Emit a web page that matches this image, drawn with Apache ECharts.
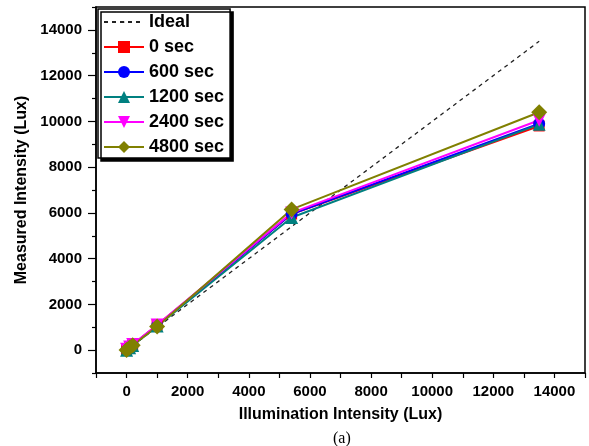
<!DOCTYPE html>
<html>
<head>
<meta charset="utf-8">
<script src="https://cdn.jsdelivr.net/npm/echarts@6/dist/echarts.min.js"></script>
<style>html,body{margin:0;padding:0;background:#fff}#c{width:589px;height:446px}</style>
</head>
<body>
<div id="c"></div>
<script>
const illum = [0, 100, 200, 1000, 5400, 13500];
const ideal = [0, 100, 200, 1000, 5400, 13500];
const sec0 = [20, 120, 230, 1100, 5950, 9800];
const sec600 = [10, 110, 220, 1080, 5950, 9900];
const sec1200 = [0, 100, 200, 1050, 5800, 9870];
const sec2400 = [40, 140, 250, 1100, 6000, 10050];
const sec4800 = [10, 110, 210, 1030, 6150, 10400];
const majorTicks = [0, 2000, 4000, 6000, 8000, 10000, 12000, 14000];
const minorTicks = [-1000, 1000, 3000, 5000, 7000, 9000, 11000, 13000, 15000];
const names = ['Ideal', '0 sec', '600 sec', '1200 sec', '2400 sec', '4800 sec'];

const pair = ys => illum.map((x, i) => [x, ys[i]]);
const F = 'Liberation Sans, Arial, sans-serif';
const chart = echarts.init(document.getElementById('c'));

function mk(name, ys, color, symbol, size, extra) {
  return Object.assign({
    name: name, type: 'line', data: pair(ys), symbol: symbol, symbolSize: size,
    lineStyle: { color: color, width: 2 }, itemStyle: { color: color },
    z: 3, animation: false
  }, extra || {});
}

chart.setOption({
  animation: false,
  title: {
    text: '(a)', left: 328, top: 426,
    textStyle: { fontFamily: 'Liberation Serif, DejaVu Serif, serif', fontWeight: 'normal', fontSize: 16, color: '#000' }
  },
  grid: { left: 96, right: 4, top: 7, bottom: 73, show: true, borderColor: '#000', borderWidth: 1.5 },
  legend: {
    orient: 'vertical', left: 98, top: 9, data: names,
    padding: [4, 6, 2, 5], itemGap: 7, itemWidth: 40, itemHeight: 15,
    backgroundColor: '#fff', borderColor: '#000', borderWidth: 1.5,
    shadowColor: '#000', shadowOffsetX: 3, shadowOffsetY: 3, shadowBlur: 0.1,
    textStyle: { fontFamily: F, fontWeight: 'bold', fontSize: 18, color: '#000', lineHeight: 18 }
  },
  xAxis: {
    type: 'value', min: -1000, max: 15000, interval: 1000,
    name: 'Illumination Intensity (Lux)', nameLocation: 'middle', nameGap: 34,
    nameTextStyle: { fontFamily: F, fontWeight: 'bold', fontSize: 16, color: '#000' },
    axisLine: { show: true, onZero: false, lineStyle: { color: '#000', width: 1.5 } },
    axisTick: { show: true, length: 5, lineStyle: { color: '#000', width: 1.2 } },
    axisLabel: {
      margin: 11, fontFamily: F, fontWeight: 'bold', fontSize: 15, color: '#000',
      formatter: v => (v >= 0 && v <= 14000 && v % 2000 === 0) ? String(v) : ''
    },
    splitLine: { show: false }
  },
  yAxis: [{
    type: 'value', min: -1000, max: 15000, interval: 1000,
    name: 'Measured Intensity (Lux)', nameLocation: 'middle', nameGap: 66,
    nameTextStyle: { fontFamily: F, fontWeight: 'bold', fontSize: 16, color: '#000' },
    axisLine: { show: true, onZero: false, lineStyle: { color: '#000', width: 1.5 } },
    axisTick: { show: true, length: 8, customValues: majorTicks, lineStyle: { color: '#000', width: 1.2 } },
    axisLabel: {
      margin: 14, fontFamily: F, fontWeight: 'bold', fontSize: 15, color: '#000',
      customValues: majorTicks,
      formatter: v => (v >= 0 && v <= 14000 && v % 2000 === 0) ? String(v) : ''
    },
    splitLine: { show: false }
  }, {
    type: 'value', min: -1000, max: 15000, position: 'left',
    axisLine: { show: false, onZero: false },
    axisTick: { show: true, length: 4, customValues: minorTicks, lineStyle: { color: '#000', width: 1.2 } },
    axisLabel: { show: false },
    splitLine: { show: false }
  }],
  series: [
    mk('Ideal', ideal, '#222', 'path://M0,0M20,20M9,10a1,1 0 1,0 2,0a1,1 0 1,0 -2,0z', 3,
       { lineStyle: { color: '#222', width: 1.3, type: [4, 4] }, z: 2 }),
    mk('0 sec', sec0, '#ff0000', 'rect', 11),
    mk('600 sec', sec600, '#0000ff', 'circle', 12),
    mk('1200 sec', sec1200, '#008080', 'triangle', 13),
    mk('2400 sec', sec2400, '#ff00ff', 'triangle', 13, { symbolRotate: 180 }),
    mk('4800 sec', sec4800, '#808000', 'diamond', 16)
  ]
});
</script>
</body>
</html>
